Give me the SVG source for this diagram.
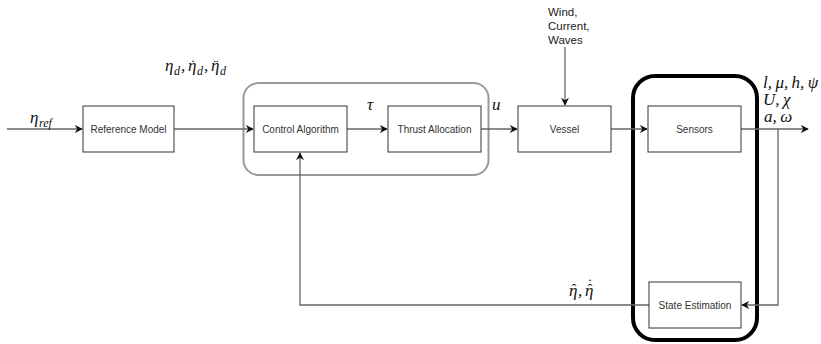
<svg xmlns="http://www.w3.org/2000/svg" width="821" height="344" viewBox="0 0 821 344">
<defs>
<marker id="ah" viewBox="0 0 10 10" refX="9" refY="5" markerWidth="8" markerHeight="8" markerUnits="userSpaceOnUse" orient="auto">
<path d="M0,0 L10,5 L0,10 L3,5 Z" fill="#111"/>
</marker>
<style>
.box{fill:#fff;stroke:#333;stroke-width:1}
.lbl{font-family:"Liberation Sans",Arial,sans-serif;font-size:10px;fill:#333;text-anchor:middle;dominant-baseline:central}
.wind{font-family:"Liberation Sans",Arial,sans-serif;font-size:11.5px;fill:#222}
.math{font-family:"Liberation Serif","DejaVu Serif",serif;font-style:italic;font-size:17px;fill:#111}
.sub{font-family:"Liberation Serif","DejaVu Serif",serif;font-style:italic;font-size:12px;fill:#111}
.acc{font-family:"Liberation Serif","DejaVu Serif",serif;font-size:15px;fill:#111;text-anchor:middle}
.conn{fill:none;stroke:#666;stroke-width:1.3}
</style>
</defs>
<rect x="243.5" y="83" width="245" height="92" rx="15" fill="none" stroke="#999" stroke-width="2"/>
<rect x="633" y="76" width="124" height="264" rx="22" fill="none" stroke="#000" stroke-width="4"/>
<g id="connectors">
<path class="conn" d="M7,129 H82" marker-end="url(#ah)"/>
<path class="conn" d="M174,129 H253" marker-end="url(#ah)"/>
<path class="conn" d="M347,129 H387" marker-end="url(#ah)"/>
<path class="conn" d="M481,129 H517" marker-end="url(#ah)"/>
<path class="conn" d="M565,47 V105" marker-end="url(#ah)"/>
<path class="conn" d="M611,129 H647" marker-end="url(#ah)"/>
<path class="conn" d="M741,129 H808" marker-end="url(#ah)"/>
<path class="conn" d="M778,129 V305 H742" marker-end="url(#ah)"/>
<path class="conn" d="M649,305 H300 V153" marker-end="url(#ah)"/>
</g>
<g id="reference-model"><rect class="box" x="83" y="106" width="91" height="46"/><text class="lbl" x="128.5" y="129">Reference Model</text></g>
<g id="control-algorithm"><rect class="box" x="254" y="106" width="93" height="46"/><text class="lbl" x="300.5" y="129">Control Algorithm</text></g>
<g id="thrust-allocation"><rect class="box" x="388" y="106" width="93" height="46"/><text class="lbl" x="434.5" y="129">Thrust Allocation</text></g>
<g id="vessel"><rect class="box" x="518" y="106" width="93" height="46"/><text class="lbl" x="564.5" y="129">Vessel</text></g>
<g id="sensors"><rect class="box" x="648" y="106" width="93" height="46"/><text class="lbl" x="694.5" y="129">Sensors</text></g>
<g id="state-estimation"><rect class="box" x="649" y="282" width="92" height="46"/><text class="lbl" x="695" y="305">State Estimation</text></g>
<g id="disturbances"><text class="wind" x="548" y="16">Wind,</text><text class="wind" x="548" y="30">Current,</text><text class="wind" x="548" y="44">Waves</text></g>
<g id="labels">
<text class="math" x="30" y="123">η</text><text class="sub" x="39" y="127">ref</text>
<text class="math" x="165" y="71">η</text><text class="sub" x="174" y="75">d</text><text class="math" x="181" y="71">,</text>
<text class="math" x="188" y="71">η</text><text class="acc" x="193" y="70">˙</text><text class="sub" x="197" y="75">d</text><text class="math" x="204" y="71">,</text>
<text class="math" x="211" y="71">η</text><text class="acc" x="216" y="70">¨</text><text class="sub" x="220" y="75">d</text>
<text class="math" x="367" y="110">τ</text>
<text class="math" x="492" y="110">u</text>
<text class="math" x="763" y="88" font-size="16">l,&#8201;μ,&#8201;h,&#8201;ψ</text>
<text class="math" x="763" y="105" font-size="16">U,&#8201;χ</text>
<text class="math" x="764" y="122" font-size="16">a,&#8201;ω</text>
<text class="math" x="569" y="296">η</text><text class="acc" x="574" y="294">ˆ</text><text class="math" x="578" y="296">,</text>
<text class="math" x="585" y="296">η</text><text class="acc" x="590" y="294">ˆ</text><text class="acc" x="590" y="289">˙</text>
</g>
</svg>
